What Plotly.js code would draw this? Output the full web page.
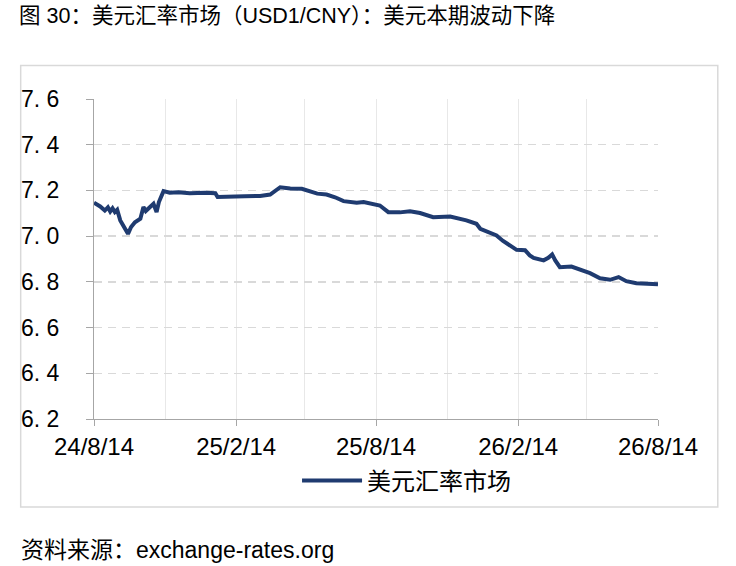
<!DOCTYPE html>
<html>
<head>
<meta charset="utf-8">
<script src="https://cdn.plot.ly/plotly-3.0.1.min.js"></script>
<style>
  body { margin: 0; background: #fff; }
  #plot { width: 736px; height: 566px; }
</style>
</head>
<body>
<div id="plot"></div>
<script>
// chart data
var dates = [
  '2024-08-14','2024-08-22','2024-08-28','2024-09-01','2024-09-04','2024-09-07','2024-09-10','2024-09-13',
  '2024-09-17','2024-09-22','2024-09-27','2024-10-01','2024-10-06','2024-10-13','2024-10-17','2024-10-20',
  '2024-10-23','2024-10-27','2024-10-30','2024-11-03','2024-11-06','2024-11-12','2024-11-20','2024-12-01',
  '2024-12-16','2025-01-05','2025-01-18','2025-01-21','2025-02-06','2025-02-25','2025-03-17','2025-03-30',
  '2025-04-12','2025-04-25','2025-05-10','2025-05-21','2025-05-30','2025-06-11','2025-06-22','2025-07-03',
  '2025-07-20','2025-07-29','2025-08-09','2025-08-19','2025-08-30','2025-09-14','2025-09-27','2025-10-10',
  '2025-10-27','2025-11-18','2025-12-09','2025-12-22','2025-12-27','2026-01-06','2026-01-17','2026-01-25',
  '2026-02-03','2026-02-12','2026-02-23','2026-03-01','2026-03-06','2026-03-12','2026-03-19','2026-03-25',
  '2026-03-30','2026-04-03','2026-04-09','2026-04-24','2026-05-05','2026-05-18','2026-05-31','2026-06-13',
  '2026-06-24','2026-07-04','2026-07-17','2026-07-29','2026-08-14'
];
var usdcny = [
  7.146, 7.130, 7.112, 7.126, 7.108, 7.122, 7.105, 7.115,
  7.069, 7.040, 7.010, 7.040, 7.061, 7.076, 7.127, 7.110,
  7.120, 7.130, 7.142, 7.105, 7.149, 7.197, 7.190, 7.192,
  7.188, 7.190, 7.188, 7.171, 7.171, 7.174, 7.176, 7.182,
  7.214, 7.208, 7.207, 7.195, 7.186, 7.182, 7.170, 7.153,
  7.146, 7.149, 7.140, 7.134, 7.105, 7.104, 7.109, 7.101,
  7.083, 7.086, 7.069, 7.054, 7.032, 7.020, 7.003, 6.980,
  6.959, 6.940, 6.938, 6.916, 6.905, 6.900, 6.894, 6.905,
  6.920, 6.894, 6.864, 6.867, 6.853, 6.838, 6.816, 6.809,
  6.821, 6.803, 6.794, 6.790, 6.789
];
var seriesName = '美元汇率市场';
var yTicks = [6.2, 6.4, 6.6, 6.8, 7.0, 7.2, 7.4, 7.6];
var yTickText = ['6. 2', '6. 4', '6. 6', '6. 8', '7. 0', '7. 2', '7. 4', '7. 6'];

var latin = 'Liberation Sans, Noto Sans CJK SC, sans-serif';
var cjk = 'Noto Sans CJK SC, Liberation Sans, sans-serif';

var curve = {
  x: dates,
  y: usdcny,
  type: 'scatter',
  mode: 'lines',
  name: seriesName,
  line: { color: '#1f3b70', width: 4 }
};

var layout = {
  width: 736,
  height: 566,
  margin: { l: 94, r: 78, t: 99, b: 147 },
  paper_bgcolor: '#ffffff',
  plot_bgcolor: '#ffffff',
  title: {
    text: '图 30：美元汇率市场（USD1/CNY）：美元本期波动下降',
    font: { family: latin, size: 21.5, color: '#000' },
    x: 19 / 736, xanchor: 'left', xref: 'container',
    y: 1 - 15 / 566, yanchor: 'middle', yref: 'container'
  },
  xaxis: {
    type: 'date',
    range: ['2024-08-14', '2026-08-14'],
    tick0: '2024-08-14',
    dtick: 'M6',
    tickformat: '%y/%-m/%d',
    ticks: 'outside',
    ticklen: 6,
    tickcolor: '#a6a6a6',
    tickfont: { family: latin, size: 24, color: '#000' },
    showline: true,
    linecolor: '#a6a6a6',
    linewidth: 1,
    showgrid: true,
    gridcolor: '#e8e8e8',
    gridwidth: 1,
    minor: { dtick: 'M3', tick0: '2024-08-14', showgrid: true, gridcolor: '#e8e8e8', gridwidth: 1, ticks: '' },
    zeroline: false,
    fixedrange: true
  },
  yaxis: {
    range: [6.2, 7.6],
    tickvals: yTicks,
    ticktext: yTickText,
    ticks: 'outside',
    ticklen: 7,
    tickcolor: '#a6a6a6',
    ticklabelstandoff: 22,
    tickfont: { family: latin, size: 23, color: '#000' },
    showline: true,
    linecolor: '#a6a6a6',
    linewidth: 1,
    showgrid: true,
    gridcolor: '#d9d9d9',
    gridwidth: 1.5,
    griddash: '8px,6px',
    zeroline: false,
    fixedrange: true
  },
  showlegend: true,
  legend: {
    orientation: 'h',
    x: 0.36, xanchor: 'left',
    y: -0.1935, yanchor: 'middle',
    itemwidth: 60,
    font: { family: cjk, size: 24, color: '#000' },
    bgcolor: 'rgba(0,0,0,0)'
  },
  shapes: [{
    type: 'rect', xref: 'paper', yref: 'paper',
    x0: -0.130, x1: 1.106, y0: -0.2747, y1: 1.105,
    line: { color: '#d9d9d9', width: 1.5 },
    fillcolor: 'rgba(0,0,0,0)',
    layer: 'below'
  }],
  annotations: [{
    text: '资料来源：exchange-rates.org',
    xref: 'paper', yref: 'paper',
    x: -0.133, xanchor: 'left',
    y: -0.409, yanchor: 'middle',
    showarrow: false,
    font: { family: latin, size: 23, color: '#000' }
  }]
};

Plotly.newPlot(document.getElementById('plot'), [curve], layout, { displayModeBar: false, staticPlot: true });
</script>
</body>
</html>
